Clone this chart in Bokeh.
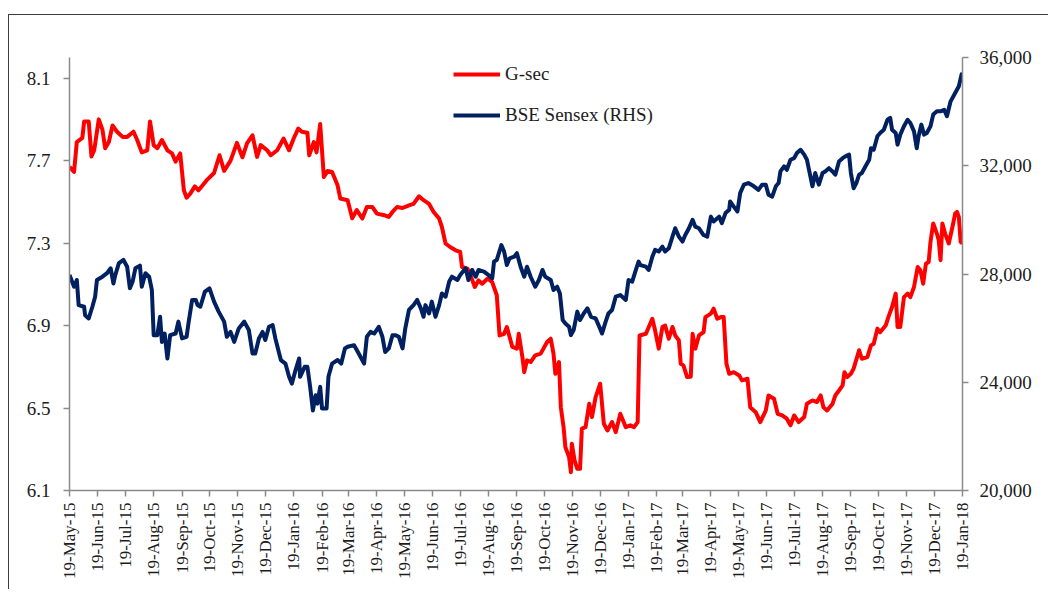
import pandas as pd
from math import pi
from bokeh.plotting import figure
from bokeh.models import (Range1d, LinearAxis, FixedTicker, NumeralTickFormatter,
                          DatetimeTickFormatter, Legend, LegendItem)
from bokeh.embed import file_html
from bokeh.resources import INLINE

# ---------------- data ----------------
start_date = "2015-05-19"
end_date = "2018-01-19"

x_tick_labels = ["19-May-15", "19-Jun-15", "19-Jul-15", "19-Aug-15", "19-Sep-15", "19-Oct-15",
                 "19-Nov-15", "19-Dec-15", "19-Jan-16", "19-Feb-16", "19-Mar-16", "19-Apr-16",
                 "19-May-16", "19-Jun-16", "19-Jul-16", "19-Aug-16", "19-Sep-16", "19-Oct-16",
                 "19-Nov-16", "19-Dec-16", "19-Jan-17", "19-Feb-17", "19-Mar-17", "19-Apr-17",
                 "19-May-17", "19-Jun-17", "19-Jul-17", "19-Aug-17", "19-Sep-17", "19-Oct-17",
                 "19-Nov-17", "19-Dec-17", "19-Jan-18"]
gsec_ticks = [6.1, 6.5, 6.9, 7.3, 7.7, 8.1]
sensex_ticks = [20000, 24000, 28000, 32000, 36000]

# days since 19-May-15
gsec_day = [0, 5, 8, 14, 16, 21, 24, 27, 32, 36, 39, 43, 47, 52, 58, 63, 70, 74, 79, 85, 88, 92, 96,
            101, 107, 112, 116, 121, 125, 128, 132, 137, 141, 150, 158, 164, 169, 176, 183, 189, 194,
            200, 205, 209, 216, 220, 227, 234, 240, 245, 250, 254, 260, 262, 267, 270, 274, 278, 282,
            287, 293, 296, 304, 309, 314, 320, 325, 331, 336, 344, 349, 353, 358, 364, 371, 376, 382,
            387, 393, 398, 404, 407, 411, 416, 422, 427, 429, 435, 439, 443, 447, 451, 457, 462, 467,
            470, 475, 478, 484, 489, 491, 495, 497, 500, 504, 509, 515, 518, 522, 526, 529, 531, 535,
            537, 540, 542, 546, 548, 549, 552, 555, 558, 560, 564, 568, 571, 575, 580, 584, 588, 593,
            597, 602, 608, 613, 617, 621, 623, 630, 637, 640, 644, 648, 651, 655, 659, 662, 666, 668,
            671, 675, 679, 681, 684, 688, 693, 695, 701, 704, 708, 712, 715, 718, 721, 726, 732, 735,
            741, 744, 750, 755, 761, 764, 770, 774, 779, 784, 788, 792, 797, 803, 806, 812, 817, 821,
            824, 828, 834, 837, 841, 845, 847, 850, 854, 857, 863, 866, 872, 876, 879, 883, 886, 892,
            895, 899, 903, 905, 908, 912, 916, 919, 923, 927, 930, 933, 936, 939, 941, 944, 948, 950,
            952, 954, 957, 961, 965, 968, 970, 972, 974, 976]
gsec_yield = [7.67, 7.645, 7.79, 7.81, 7.89, 7.89, 7.72, 7.75, 7.90, 7.85, 7.76, 7.79, 7.87, 7.84,
              7.815, 7.815, 7.84, 7.80, 7.74, 7.75, 7.89, 7.775, 7.76, 7.80, 7.75, 7.735, 7.695,
              7.735, 7.556, 7.52, 7.54, 7.575, 7.556, 7.605, 7.64, 7.726, 7.65, 7.70, 7.786, 7.716,
              7.783, 7.823, 7.718, 7.775, 7.75, 7.726, 7.75, 7.807, 7.75, 7.807, 7.855, 7.84, 7.835,
              7.726, 7.79, 7.74, 7.877, 7.62, 7.65, 7.645, 7.58, 7.516, 7.508, 7.42, 7.46, 7.419,
              7.475, 7.475, 7.443, 7.435, 7.427, 7.451, 7.475, 7.47, 7.483, 7.49, 7.527, 7.508, 7.49,
              7.451, 7.419, 7.378, 7.298, 7.281, 7.265, 7.257, 7.184, 7.176, 7.135, 7.087, 7.119,
              7.103, 7.128, 7.111, 7.047, 6.852, 6.86, 6.893, 6.796, 6.788, 6.86, 6.747, 6.674,
              6.731, 6.723, 6.755, 6.764, 6.788, 6.82, 6.836, 6.764, 6.666, 6.723, 6.504, 6.407,
              6.31, 6.262, 6.189, 6.327, 6.246, 6.205, 6.205, 6.40, 6.407, 6.521, 6.456, 6.553,
              6.618, 6.424, 6.391, 6.432, 6.383, 6.472, 6.407, 6.416, 6.407, 6.432, 6.852, 6.86,
              6.933, 6.877, 6.788, 6.893, 6.90, 6.836, 6.893, 6.852, 6.828, 6.715, 6.707, 6.65,
              6.652, 6.86, 6.788, 6.852, 6.868, 6.941, 6.958, 6.982, 6.933, 6.941, 6.941, 6.715,
              6.666, 6.674, 6.658, 6.634, 6.642, 6.504, 6.48, 6.432, 6.488, 6.561, 6.545, 6.472,
              6.464, 6.448, 6.416, 6.464, 6.432, 6.456, 6.521, 6.537, 6.529, 6.561, 6.504, 6.488,
              6.521, 6.561, 6.585, 6.61, 6.674, 6.65, 6.666, 6.691, 6.78, 6.739, 6.747, 6.804,
              6.812, 6.885, 6.868, 6.90, 6.941, 6.99, 7.055, 6.893, 6.893, 7.038, 7.055, 7.038,
              7.087, 7.184, 7.168, 7.103, 7.20, 7.208, 7.305, 7.395, 7.346, 7.314, 7.217, 7.395,
              7.346, 7.298, 7.378, 7.443, 7.451, 7.427, 7.305, 7.298]

sensex_day = [0, 5, 8, 10, 16, 17, 21, 25, 28, 30, 36, 41, 45, 48, 50, 54, 59, 63, 66, 69, 72, 77,
              79, 83, 87, 90, 92, 96, 99, 101, 104, 107, 110, 116, 119, 123, 128, 130, 134, 138, 140,
              143, 148, 153, 158, 163, 169, 172, 176, 180, 185, 191, 196, 200, 203, 207, 211, 214,
              218, 222, 225, 231, 236, 240, 243, 247, 251, 252, 257, 260, 263, 266, 269, 271, 274,
              276, 281, 283, 287, 293, 297, 301, 304, 311, 314, 318, 322, 325, 329, 333, 338, 342,
              345, 349, 353, 356, 360, 364, 367, 371, 376, 380, 384, 387, 389, 393, 396, 400, 404,
              407, 411, 415, 418, 424, 427, 433, 436, 440, 444, 447, 453, 458, 462, 464, 467, 472,
              475, 478, 481, 486, 489, 493, 497, 500, 504, 509, 513, 517, 520, 526, 529, 533, 536,
              539, 542, 546, 548, 551, 555, 558, 562, 566, 570, 575, 579, 582, 586, 589, 593, 597,
              602, 608, 611, 615, 619, 622, 624, 630, 633, 637, 640, 644, 648, 651, 655, 659, 662,
              666, 670, 673, 677, 681, 684, 688, 693, 697, 701, 704, 710, 713, 717, 721, 722, 726,
              730, 733, 737, 742, 748, 753, 757, 761, 764, 768, 772, 775, 777, 781, 784, 788, 792,
              795, 799, 803, 806, 809, 812, 815, 819, 823, 826, 830, 834, 837, 841, 845, 848, 852,
              854, 857, 860, 863, 866, 870, 874, 876, 879, 883, 886, 890, 894, 897, 899, 903, 905,
              908, 912, 916, 919, 923, 926, 928, 931, 934, 937, 941, 944, 948, 952, 956, 959, 963,
              968, 972, 975, 976]
sensex_close = [27960, 27530, 27780, 26850, 26790, 26480, 26360, 26790, 27160, 27780, 27900, 28030,
                28210, 27650, 27960, 28400, 28520, 28270, 27470, 27720, 28210, 28310, 27530, 28030,
                27900, 27410, 25740, 25740, 26420, 25490, 25800, 24880, 25740, 25800, 26240, 25620,
                25680, 26170, 27040, 27040, 26850, 26790, 27350, 27470, 26980, 26610, 26240, 25680,
                25860, 25490, 25990, 26240, 25930, 25060, 25060, 25620, 25860, 25560, 26050, 26110,
                25620, 24820, 24690, 24200, 23950, 24440, 24880, 24200, 24570, 24570, 23830, 22960,
                23520, 23210, 23830, 23030, 23030, 24200, 24690, 24820, 24690, 25250, 25310, 25370,
                25190, 24940, 24690, 25680, 25860, 25800, 26050, 25680, 25120, 25250, 25740, 25740,
                25680, 25250, 25990, 26670, 26850, 27040, 26730, 26420, 26850, 26540, 26980, 26420,
                26850, 27280, 27160, 27720, 27900, 27780, 27960, 28210, 27780, 28150, 27900, 28150,
                28090, 27960, 27840, 28460, 28520, 29070, 28830, 28330, 28580, 28640, 28770, 28270,
                27900, 28270, 27900, 27530, 27780, 28150, 27900, 27780, 27410, 27530, 27280, 26300,
                26170, 26050, 25740, 25930, 26610, 26300, 26540, 26730, 26420, 26360, 26050, 25800,
                26240, 26540, 26670, 27160, 27220, 27040, 27780, 27720, 28150, 28460, 28330, 28270,
                28150, 28640, 28890, 28830, 29010, 28830, 28950, 29380, 29690, 29380, 29200, 29440,
                29690, 30000, 29750, 29690, 29440, 29380, 30120, 29940, 30120, 29880, 30250, 30370,
                30680, 30490, 30310, 30990, 31300, 31360, 31240, 31110, 31300, 31300, 30930, 30860,
                31240, 31360, 31790, 31980, 31850, 32220, 32280, 32470, 32590, 32410, 32220, 31730,
                31240, 31730, 31300, 31730, 31790, 31910, 31790, 31670, 32160, 32280, 32350, 32410,
                31730, 31170, 31360, 31670, 31730, 31980, 32220, 32650, 32590, 33090, 33210, 33330,
                33700, 33770, 33330, 33210, 32780, 33150, 33460, 33700, 33580, 33270, 32650, 33090,
                33520, 33150, 33210, 33460, 33890, 34010, 34010, 34070, 33830, 34380, 34690, 34940,
                35370, 35430]

# ---------------- figure ----------------
FONT = "Liberation Serif"
TXT = "#1c1c1c"
AXIS = "#8a8a8a"

t0 = pd.Timestamp(start_date)
gsec_x = t0 + pd.to_timedelta(gsec_day, unit="D")
sensex_x = t0 + pd.to_timedelta(sensex_day, unit="D")
tick_dates = pd.to_datetime(x_tick_labels, format="%d-%b-%y")
tick_ms = [float(t.value // 10**6) for t in tick_dates]

# canvas origin sits at page (9, 15) because of the CSS margin + 1px border below
p = figure(width=1040, height=575, x_axis_type="datetime",
           x_range=Range1d(pd.Timestamp(start_date), pd.Timestamp(end_date)),
           y_range=Range1d(6.1, 8.2),
           output_backend="svg", toolbar_location=None,
           min_border_left=60, min_border_right=87, min_border_top=42, min_border_bottom=100)
p.styles = {"margin-left": "8px", "margin-top": "14px",
            "border-left": "1px solid #3c3c3c", "border-top": "1px solid #3c3c3c"}
p.background_fill_color = "white"
p.border_fill_color = "white"
p.outline_line_color = None
p.xgrid.visible = False
p.ygrid.visible = False

# left axis
ly = p.yaxis[0]
ly.ticker = FixedTicker(ticks=gsec_ticks)
ly.formatter = NumeralTickFormatter(format="0.0")

# bottom axis
xa = p.xaxis[0]
xa.ticker = FixedTicker(ticks=tick_ms)
fmt = "%d-%b-%y"
xa.formatter = DatetimeTickFormatter(days=fmt, months=fmt, years=fmt, hours=fmt, hourmin=fmt,
                                     minutes=fmt, minsec=fmt, seconds=fmt, milliseconds=fmt,
                                     microseconds=fmt)
xa.major_label_orientation = pi / 2

# right axis
p.extra_y_ranges = {"sx": Range1d(20000, 36000)}
ry = LinearAxis(y_range_name="sx", ticker=FixedTicker(ticks=sensex_ticks),
                formatter=NumeralTickFormatter(format="0,0"))
p.add_layout(ry, "right")

for ax, size, standoff in ((ly, "19px", 13), (ry, "19px", 11), (xa, "17px", 6)):
    ax.axis_line_color = AXIS
    ax.axis_line_width = 1.5
    ax.major_tick_line_color = AXIS
    ax.major_tick_line_width = 1.5
    ax.major_tick_out = 6
    ax.major_tick_in = 0
    ax.minor_tick_line_color = None
    ax.major_label_text_font = FONT
    ax.major_label_text_font_size = size
    ax.major_label_text_color = TXT
    ax.major_label_standoff = standoff

r_gsec = p.line(gsec_x, gsec_yield, line_color="#ff0000", line_width=4, line_join="round")
r_sx = p.line(sensex_x, sensex_close, y_range_name="sx", line_color="#002060", line_width=4,
              line_join="round")

legend = Legend(items=[LegendItem(label="G-sec", renderers=[r_gsec]),
                       LegendItem(label="BSE Sensex (RHS)", renderers=[r_sx])],
                location=(384, 364), padding=0, margin=0, spacing=19,
                glyph_width=47, glyph_height=20, label_height=20, label_standoff=5,
                label_text_font=FONT, label_text_font_size="19px", label_text_color=TXT,
                border_line_color=None, background_fill_alpha=0)
p.add_layout(legend)

open("out.html", "w").write(file_html(p, INLINE))
